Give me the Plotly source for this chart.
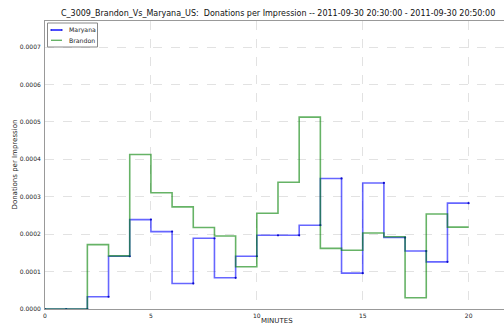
import plotly.graph_objects as go

# Donations per impression, one value per minute of the window
minutes = list(range(0, 21))
maryana = [0, 0, 0, 0.0000327, 0.000141, 0.000239, 0.000207, 0.0000683, 0.000189,
           0.0000834, 0.000141, 0.000197, 0.000197, 0.000224, 0.000349, 0.0000958,
           0.000337, 0.000191, 0.000155, 0.000126, 0.000283]
brandon = [0, 0, 0, 0.000172, 0.000142, 0.000413, 0.000311, 0.000273, 0.000218,
           0.000195, 0.000113, 0.000256, 0.000339, 0.000513, 0.000162, 0.000157,
           0.000203, 0.000193, 0.0000301, 0.000254, 0.000219]
y_ticks = [0, 0.0001, 0.0002, 0.0003, 0.0004, 0.0005, 0.0006, 0.0007]
x_ticks = [0, 5, 10, 15, 20]

FONT = "DejaVu Sans"
BLUE = "rgba(0,0,255,0.6)"
GREEN = "rgba(0,128,0,0.6)"
MARK = "rgba(0,0,200,0.9)"

fig = go.Figure()
fig.add_trace(go.Scatter(
    x=minutes, y=maryana, name="Maryana", mode="lines+markers",
    line=dict(shape="vh", color=BLUE, width=1.6),
    marker=dict(size=2.2, color=MARK),
))
fig.add_trace(go.Scatter(
    x=minutes, y=brandon, name="Brandon", mode="lines",
    line=dict(shape="vh", color=GREEN, width=1.6),
))

# compact legend box in the upper-left corner
W, H = 504, 326
L, R, T, B = 45, 0, 21, 17
pw, ph = W - L - R, H - T - B

def px(x):
    return (x - L) / pw

def py(y):
    return 1 - (y - T) / ph

shapes = [
    dict(type="rect", xref="paper", yref="paper",
         x0=px(47.5), x1=px(97.5), y0=py(47), y1=py(23),
         line=dict(color="#888", width=1), fillcolor="white", layer="above"),
]
annotations = []
for i, (name, col, mk) in enumerate([("Maryana", "rgb(0,0,255)", True),
                                     ("Brandon", GREEN, False)]):
    yy = 30 + i * 10.3
    shapes.append(dict(type="line", xref="paper", yref="paper",
                       x0=px(51), x1=px(62), y0=py(yy), y1=py(yy),
                       line=dict(color=col, width=1.4), layer="above"))
    if mk:
        for xx in (51, 62):
            shapes.append(dict(type="circle", xref="paper", yref="paper",
                               x0=px(xx - 0.8), x1=px(xx + 0.8), y0=py(yy + 0.8), y1=py(yy - 0.8),
                               fillcolor=MARK, line=dict(width=0), layer="above"))
    annotations.append(dict(text=name, xref="paper", yref="paper",
                            x=px(66.5), y=py(yy), xanchor="left", yanchor="middle",
                            showarrow=False, font=dict(family=FONT, size=6.2, color="#222")))

annotations.append(dict(text="MINUTES", xref="paper", yref="paper",
                        x=px(277), y=py(321), xanchor="center", yanchor="middle",
                        showarrow=False, font=dict(family=FONT, size=7, color="#222")))
annotations.append(dict(text="Donations per Impression", xref="paper", yref="paper",
                        x=px(14.5), y=0.5, xanchor="center", yanchor="middle", textangle=-90,
                        showarrow=False, font=dict(family=FONT, size=7, color="#222")))
annotations.append(dict(text="C_3009_Brandon_Vs_Maryana_US:  Donations per Impression -- "
                             "2011-09-30 20:30:00 - 2011-09-30 20:50:00",
                        xref="paper", yref="paper", x=px(277.5), y=py(14),
                        xanchor="center", yanchor="middle", showarrow=False,
                        font=dict(family=FONT, size=8, color="#111")))

fig.update_layout(
    width=W, height=H,
    margin=dict(l=L, r=R, t=T, b=B),
    paper_bgcolor="white", plot_bgcolor="white",
    showlegend=False,
    shapes=shapes, annotations=annotations,
    font=dict(family=FONT, size=6, color="#222"),
)
fig.update_xaxes(
    range=[0, 21.67], tickvals=x_ticks, ticktext=[str(v) for v in x_ticks],
    showline=True, linecolor="#999", linewidth=1, mirror=True,
    showgrid=True, gridcolor="#e2e2e2", griddash="dash", gridwidth=1,
    zeroline=False, ticks="", ticklabelstandoff=1,
    tickfont=dict(family=FONT, size=6, color="#222"),
)
fig.update_yaxes(
    range=[0, 0.00077], tickvals=y_ticks, ticktext=[f"{v:.4f}" for v in y_ticks],
    showline=True, linecolor="#999", linewidth=1,
    showgrid=True, gridcolor="#e2e2e2", griddash="dash", gridwidth=1,
    zeroline=False, ticks="", ticklabelstandoff=2,
    tickfont=dict(family=FONT, size=6, color="#222"),
)

fig.write_html("out.html")
